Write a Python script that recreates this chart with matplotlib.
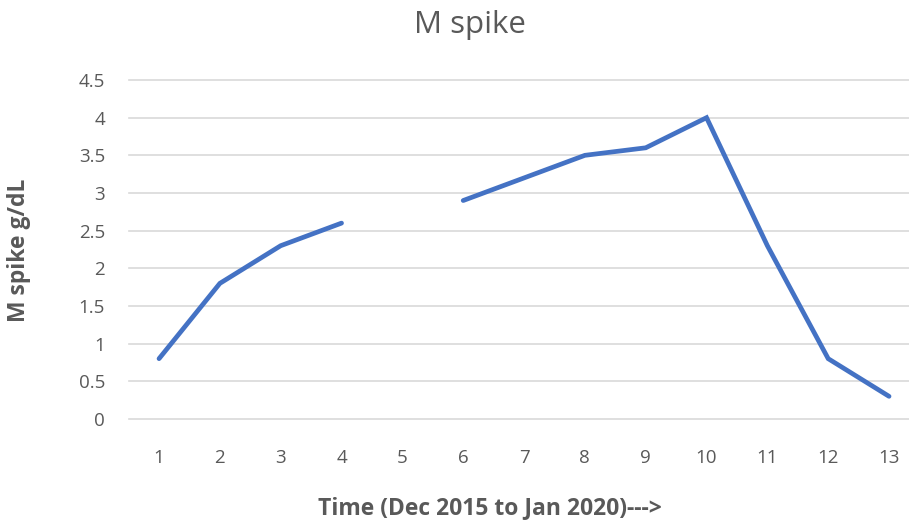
"""
M spike line chart
"""

import numpy as np
import matplotlib
matplotlib.use("agg")
import matplotlib.pyplot as plt

# data
time_points = ['1', '2', '3', '4', '5', '6', '7', '8', '9', '10', '11', '12', '13']
m_spike = [0.8, 1.8, 2.3, 2.6, np.nan, 2.9, 3.2, 3.5, 3.6, 4.0, 2.3, 0.8, 0.3]
y_ticks = [0, 0.5, 1, 1.5, 2, 2.5, 3, 3.5, 4, 4.5]
y_tick_labels = ['0', '0.5', '1', '1.5', '2', '2.5', '3', '3.5', '4', '4.5']

GRAY = '#595959'


def main():
    """ main """
    plt.rcParams['font.family'] = ['Open Sans', 'DejaVu Sans']
    fig = plt.figure(figsize=(9.09, 5.23), dpi=100)
    ax = fig.add_axes([0.1415, 0.199, 0.870, 0.648])

    xval = np.arange(1, len(time_points) + 1)
    ax.plot(xval, m_spike, color='#4472C4', lw=3.4, solid_capstyle='round',
            solid_joinstyle='miter', zorder=3)

    ax.set_xlim(0.5, len(time_points) + 0.5)
    ax.set_ylim(0, 4.5)
    ax.set_xticks(xval)
    ax.set_xticklabels(time_points)
    ax.set_yticks(y_ticks)
    ax.set_yticklabels(y_tick_labels)
    ax.tick_params(axis='both', length=0, labelsize=13.5, labelcolor=GRAY)
    ax.tick_params(axis='x', pad=22)
    ax.tick_params(axis='y', pad=17)
    ax.grid(axis='y', color='#D9D9D9', lw=1.2, clip_on=False)
    for spine in ax.spines.values():
        spine.set_visible(False)

    fig.text(0.517, 0.952, 'M spike', ha='center', va='center',
             fontsize=22.5, color=GRAY)
    fig.text(0.539, 0.028, 'Time (Dec 2015 to Jan 2020)--->', ha='center',
             va='center', fontsize=16.5, fontweight='bold', color=GRAY)
    fig.text(0.021, 0.522, 'M spike g/dL', ha='center', va='center',
             rotation=90, fontsize=16.5, fontweight='bold', color=GRAY)

    fig.savefig('out.png', dpi=100)


if __name__ == "__main__":
    main()
